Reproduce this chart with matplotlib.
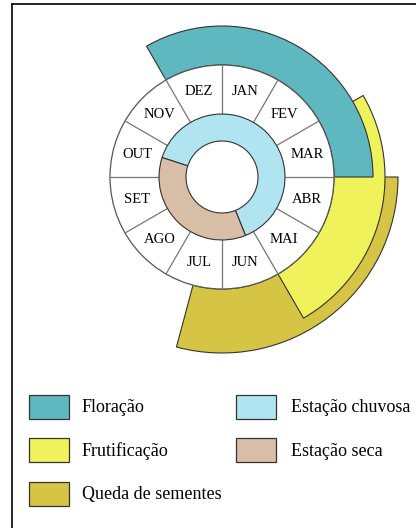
import matplotlib
matplotlib.use("Agg")
import matplotlib.pyplot as plt
from matplotlib.patches import Wedge, Rectangle, Circle
import numpy as np

# ---- data ----
months = ["JAN", "FEV", "MAR", "ABR", "MAI", "JUN",
          "JUL", "AGO", "SET", "OUT", "NOV", "DEZ"]
# phenophases: (start, end) in month units clockwise from top (0 = start of JAN)
phase_names = ["Queda de sementes", "Frutificação", "Floração"]
phase_spans = [(3.0, 6.5), (2.0, 5.0), (-1.0, 3.0)]
phase_colors = ["#d6c444", "#eff25a", "#5fb7c0"]
phase_outer = [176, 163, 151]
# seasons
season_names = ["Estação chuvosa", "Estação seca"]
season_spans = [(9.6, 17.27), (5.27, 9.6)]
season_colors = ["#b0e4f0", "#d8bea6"]

W, H = 416, 528
fig = plt.figure(figsize=(W / 100, H / 100), dpi=100)
ax = fig.add_axes([0, 0, 1, 1])
ax.set_xlim(0, W)
ax.set_ylim(0, H)
ax.set_aspect("equal")
ax.axis("off")

serif = ["Liberation Serif", "DejaVu Serif"]
cx, cy = 222, H - 177
r_month_out = 112
r_month_in = 63
r_hole = 36


def clock_to_theta(m1, m2):
    # month units clockwise from top -> math degrees ccw
    return 90 - m2 * 30, 90 - m1 * 30


# phenophase arcs
for (s, e), col, ro in zip(phase_spans, phase_colors, phase_outer):
    t1, t2 = clock_to_theta(s, e)
    ax.add_patch(Wedge((cx, cy), ro, t1, t2, width=ro - r_month_out,
                       facecolor=col, edgecolor="#333333", lw=0.8, zorder=2))

# month ring
ax.add_patch(Circle((cx, cy), r_month_out, facecolor="white",
                    edgecolor="#555555", lw=0.9, zorder=3))
for i in range(12):
    a = np.deg2rad(90 - i * 30)
    ax.plot([cx + r_month_in * np.cos(a), cx + r_month_out * np.cos(a)],
            [cy + r_month_in * np.sin(a), cy + r_month_out * np.sin(a)],
            color="#777777", lw=0.9, zorder=4)
for i, m in enumerate(months):
    a = np.deg2rad(90 - (i + 0.5) * 30)
    ax.text(cx + 88 * np.cos(a), cy + 88 * np.sin(a), m, ha="center",
            va="center", fontsize=10.5, family=serif, zorder=5)

# season ring
for (s, e), col in zip(season_spans, season_colors):
    t1, t2 = clock_to_theta(s, e)
    ax.add_patch(Wedge((cx, cy), r_month_in, t1, t2, width=r_month_in - r_hole,
                       facecolor=col, edgecolor="#333333", lw=0.8, zorder=6))

# frame lines
ax.plot([12, 12], [0, H - 4], color="black", lw=1.2)
ax.plot([12, W], [H - 4, H - 4], color="black", lw=1.2)

# legend
legend_items = [
    ("Floração", "#5fb7c0", 29, 82, 407),
    ("Frutificação", "#eff25a", 29, 82, 450),
    ("Queda de sementes", "#d6c444", 29, 82, 494),
    ("Estação chuvosa", "#b0e4f0", 236, 291, 407),
    ("Estação seca", "#d8bea6", 236, 291, 450),
]
for label, col, px, tx, py in legend_items:
    ax.add_patch(Rectangle((px, H - py - 12), 40, 24, facecolor=col,
                           edgecolor="#333333", lw=0.9))
    ax.text(tx, H - py - 1, label, ha="left", va="center", fontsize=13,
            family=serif)

fig.savefig("out.png", dpi=100)
